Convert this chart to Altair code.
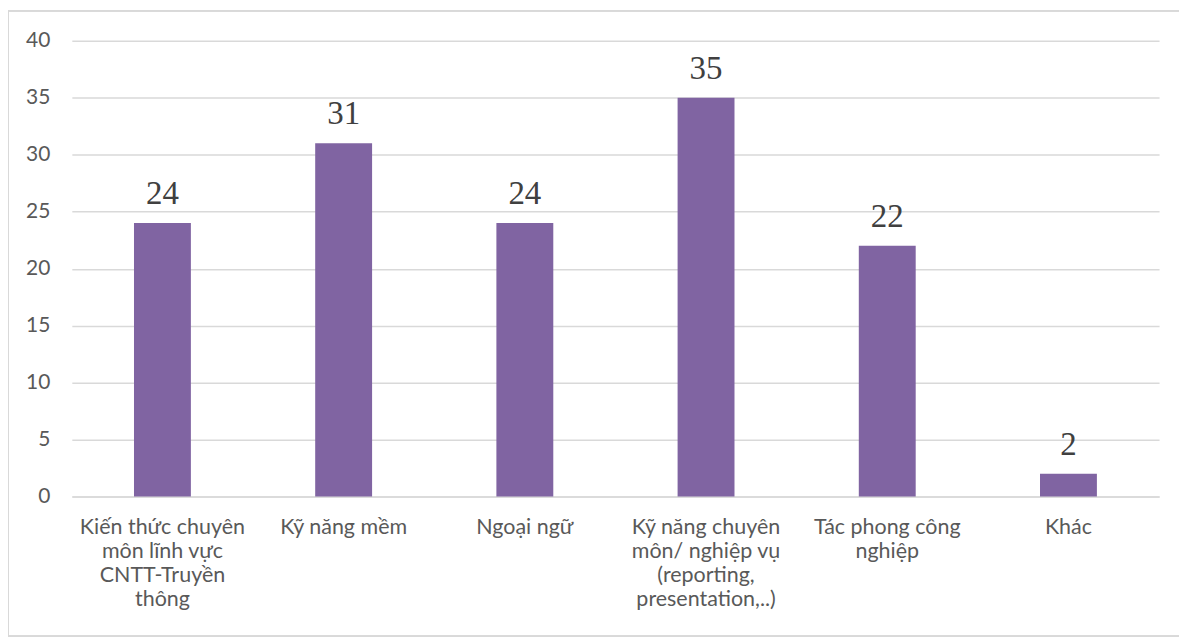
import altair as alt
import pandas as pd

categories = [
    "Kiến thức chuyên|môn lĩnh vực|CNTT-Truyền|thông",
    "Kỹ năng mềm",
    "Ngoại ngữ",
    "Kỹ năng chuyên|môn/ nghiệp vụ|(reporting,|presentation,..)",
    "Tác phong công|nghiệp",
    "Khác",
]
values = [24, 31, 24, 35, 22, 2]
y_ticks = [0, 5, 10, 15, 20, 25, 30, 35, 40]

df = pd.DataFrame({"cat": categories, "val": values})

W, H = 1090, 457

x_enc = alt.X(
    "cat:N",
    sort=categories,
    title=None,
    scale=alt.Scale(paddingInner=0.686, paddingOuter=0.343),
    axis=alt.Axis(
        labelAngle=0,
        labelExpr="split(datum.label, '|')",
        labelFont="Lato",
        labelFontSize=21.5,
        labelColor="#595959",
        labelLineHeight=24,
        labelPadding=20,
        labelBaseline="top",
        ticks=False,
        domain=True,
        domainColor="#d9d9d9",
        domainWidth=1.5,
        labelLimit=300,
    ),
)

bars = alt.Chart(df).mark_bar(color="#8064A2").encode(
    x=x_enc,
    y=alt.Y(
        "val:Q",
        title=None,
        scale=alt.Scale(domain=[0, 40], nice=False),
        axis=alt.Axis(
            values=y_ticks,
            labelFont="Lato",
            labelFontSize=21,
            labelColor="#595959",
            labelPadding=22,
            ticks=False,
            domain=False,
            grid=True,
            gridColor="#d9d9d9",
            gridWidth=1.5,
        ),
    ),
)

text = alt.Chart(df).mark_text(
    font="Liberation Serif", fontSize=33, color="#404040", baseline="alphabetic", dy=-19
).encode(
    x=alt.X("cat:N", sort=categories),
    y="val:Q",
    text="val:Q",
)

border = alt.Chart(df).mark_rect(
    fill=None, stroke="#d9d9d9", strokeWidth=1.5, clip=False
).encode(
    x=alt.value(-64), x2=alt.value(W + 40), y=alt.value(-30), y2=alt.value(H + 140)
)

chart = alt.layer(border, bars, text).properties(
    width=W,
    height=H,
    autosize=alt.AutoSizeParams(type="none"),
    padding={"left": 64, "top": 32, "right": 20, "bottom": 140},
).configure_view(stroke=None)

chart.save("out.html", embed_options={"renderer": "svg", "actions": False})
